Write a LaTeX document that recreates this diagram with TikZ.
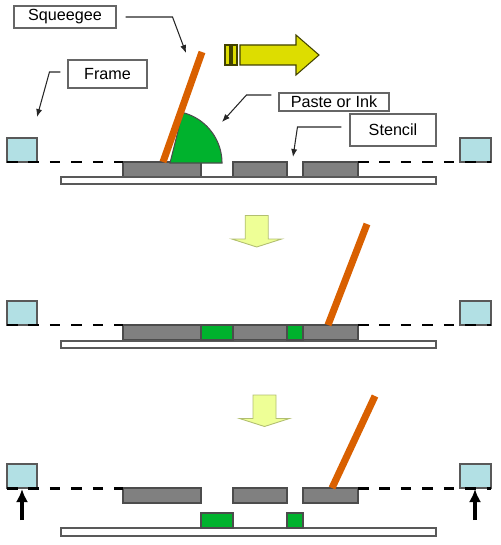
\documentclass[tikz,border=0pt]{standalone}
\usepackage{fontspec}
\setmainfont{Liberation Sans}
\usetikzlibrary{arrows.meta}

\definecolor{framecyan}{RGB}{178,224,228}
\definecolor{stencilgray}{RGB}{128,128,128}
\definecolor{pastegreen}{RGB}{0,178,45}
\definecolor{squeegeeorange}{RGB}{217,96,0}
\definecolor{pushyellow}{RGB}{221,221,0}
\definecolor{dropyellow}{RGB}{238,255,150}

\begin{document}
\begin{tikzpicture}[x=0.2mm,y=-0.2mm,
  lbl/.style={draw=black!60,fill=white,line width=0.6pt,inner sep=0pt,font=\fontsize{9.2}{11}\selectfont},
  leader/.style={draw=black!85,line width=0.6pt,-{Latex[length=4.5pt,width=3.5pt]}},
  framebox/.style={draw=black!65,fill=framecyan,line width=0.6pt},
  meshline/.style={draw=black,line width=1.7pt,dash pattern=on 6pt off 6.2pt},
  stencilblk/.style={draw=black!70,fill=stencilgray,line width=0.6pt},
  pastebox/.style={draw=black!70,fill=pastegreen,line width=0.6pt},
  boardbox/.style={draw=black!65,fill=white,line width=0.6pt},
  squeegee/.style={draw=squeegeeorange,line width=4pt},
  pusharrow/.style={draw=black!70!pushyellow,fill=pushyellow,line width=0.6pt},
  droparrow/.style={draw=black!25!dropyellow,fill=dropyellow,line width=0.5pt},
  liftarrow/.style={draw=black,line width=2pt,-{Latex[length=7.5pt,width=7pt]}}]
\useasboundingbox (0,0) rectangle (500,545);

% Frames, mesh and stencil in all three steps
\foreach \p in {162,325,488} {
  \draw[stencilblk] (123,\p) rectangle (201,\p+15);
  \draw[stencilblk] (233,\p) rectangle (287,\p+15);
  \draw[stencilblk] (303,\p) rectangle (358,\p+15);
  \draw[framebox] (7,\p-24) rectangle (37,\p);
  \draw[framebox] (460,\p-24) rectangle (491,\p);
  \draw[meshline] (7,\p) -- (123,\p);
  \draw[meshline] (358,\p) -- (491,\p);
}

% Boards
\draw[boardbox] (61,177) rectangle (436,184);
\draw[boardbox] (61,341) rectangle (436,348);
\draw[boardbox] (61,528) rectangle (436,536);

% Step 1: paste in front of the squeegee
\fill[pastegreen, draw=black!70, line width=0.6pt] (170,163) -- plot[domain=0:76, samples=30] ({170+52*cos(\x)},{163-52*sin(\x)}) -- cycle;
\draw[squeegee] (163,162) -- (202,52);

% Push direction
\draw[pusharrow] (225,45) rectangle (230,65);
\draw[pusharrow] (232,45) rectangle (237,65);
\draw[pusharrow] (240,45) -- (296,45) -- (296,35) -- (319,55) -- (296,75) -- (296,65) -- (240,65) -- cycle;

% Step 2: apertures filled
\draw[pastebox] (201,325) rectangle (233,340);
\draw[pastebox] (287,325) rectangle (303,340);
\draw[squeegee] (328,325) -- (367,224);

% Step 3: board lowered, paste left behind
\draw[pastebox] (201,513) rectangle (233,528);
\draw[pastebox] (287,513) rectangle (303,528);
\draw[squeegee] (332,488) -- (375,396);
\draw[liftarrow] (22,520) -- (22,489);
\draw[liftarrow] (475,520) -- (475,489);

% Step arrows
\foreach \ax/\ay in {256.7/215.5, 264.5/395} {
  \draw[droparrow] (\ax-11.5,\ay) -- (\ax+11.5,\ay) -- (\ax+11.5,\ay+23.5) -- (\ax+25,\ay+23.5)
    -- (\ax,\ay+31.5) -- (\ax-25,\ay+23.5) -- (\ax-11.5,\ay+23.5) -- cycle;
}

% Labels
\node[lbl,minimum width=20.4mm,minimum height=4.4mm] (sqlbl) at (65,17) {Squeegee};
\node[lbl,minimum width=15.8mm,minimum height=5.6mm] (frlbl) at (107.5,74) {Frame};
\node[lbl,minimum width=22mm,minimum height=3.6mm] (pslbl) at (334,102) {Paste or Ink};
\node[lbl,minimum width=17.2mm,minimum height=6.4mm] (stlbl) at (393,130) {Stencil};

\coordinate (sqtip) at (186,53);
\coordinate (frtip) at (37,117);
\coordinate (pstip) at (222,122);
\coordinate (sttip) at (293,157);

\draw[leader] (sqlbl.east) ++(9,0) -- ++(47,0) -- (sqtip);
\draw[leader] (frlbl.west) ++(-7,-2) -- ++(-11,0) -- (frtip);
\draw[leader] (pslbl.west) ++(-7,-7) -- ++(-25,0) -- (pstip);
\draw[leader] (stlbl.west) ++(-8,-3) -- ++(-44,0) -- (sttip);

\end{tikzpicture}
\end{document}
